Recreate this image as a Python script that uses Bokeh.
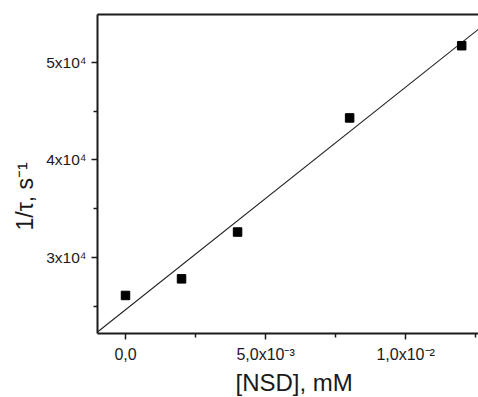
import numpy as np
from bokeh.plotting import figure
from bokeh.models import FixedTicker, LinearAxis, Range1d, Title
from bokeh.embed import file_html
from bokeh.resources import INLINE

# data
conc = [0.0, 2.0e-3, 4.0e-3, 8.0e-3, 1.2e-2]
rate = [2.61e4, 2.78e4, 3.26e4, 4.43e4, 5.17e4]

x_ticks = [0.0, 5.0e-3, 1.0e-2]
x_tick_labels = ["0,0", "5,0x10⁻³", "1,0x10⁻²"]
x_minor = [2.5e-3, 7.5e-3, 1.25e-2]
y_ticks = [3e4, 4e4, 5e4]
y_tick_labels = ["3x10⁴", "4x10⁴", "5x10⁴"]
y_minor = [2.5e4, 3.5e4, 4.5e4]

x_title = "[NSD], mM"
y_title = "1/τ, s⁻¹"

x_lo, x_hi = -1.0e-3, 1.26e-2
y_lo, y_hi = 2.22e4, 5.49e4

slope, intercept = np.polyfit(conc, rate, 1)
fit_x = [x_lo, x_hi]
fit_y = [intercept + slope * v for v in fit_x]

FONT = "Liberation Sans"
INK = "#1a1a1a"

p = figure(width=478, height=397, output_backend="svg", toolbar_location=None,
           x_range=Range1d(x_lo, x_hi), y_range=Range1d(y_lo, y_hi),
           min_border_left=97, min_border_right=0, min_border_top=14,
           min_border_bottom=64, background_fill_color="white",
           border_fill_color="white")
p.grid.visible = False
p.outline_line_color = None

p.line(fit_x, fit_y, line_color="#222222", line_width=1.1)
p.scatter(conc, rate, marker="square", size=8.5, fill_color="black",
          line_color="black")

for ax, ticks, labels, minor, fs in ((p.xaxis[0], x_ticks, x_tick_labels, x_minor, "16px"),
                                     (p.yaxis[0], y_ticks, y_tick_labels, y_minor, "15.5px")):
    ax.ticker = FixedTicker(ticks=ticks, minor_ticks=minor)
    ax.major_label_overrides = {t: l for t, l in zip(ticks, labels)}
    ax.major_label_text_font = FONT
    ax.major_label_text_font_size = fs
    ax.major_label_text_color = INK
    ax.axis_line_width = 2
    ax.axis_line_color = INK
    ax.major_tick_line_color = INK
    ax.major_tick_line_width = 1.5
    ax.major_tick_out = 6
    ax.major_tick_in = 0
    ax.minor_tick_line_color = INK
    ax.minor_tick_line_width = 1.5
    ax.minor_tick_out = 4
    ax.minor_tick_in = 0

p.xaxis.major_label_standoff = 6
p.yaxis.major_label_standoff = 5

top = LinearAxis(axis_line_width=2, axis_line_color=INK,
                 ticker=FixedTicker(ticks=[]),
                 major_tick_line_color=None, minor_tick_line_color=None)
p.add_layout(top, "above")

p.add_layout(Title(text=x_title, align="left", offset=138, text_font=FONT,
                   text_font_size="24px", text_font_style="normal",
                   text_color=INK, standoff=2), "below")
p.add_layout(Title(text=y_title, align="left", offset=103, text_font=FONT,
                   text_font_size="23px", text_font_style="normal",
                   text_color=INK, standoff=11), "left")

open("out.html", "w").write(file_html(p, INLINE))
